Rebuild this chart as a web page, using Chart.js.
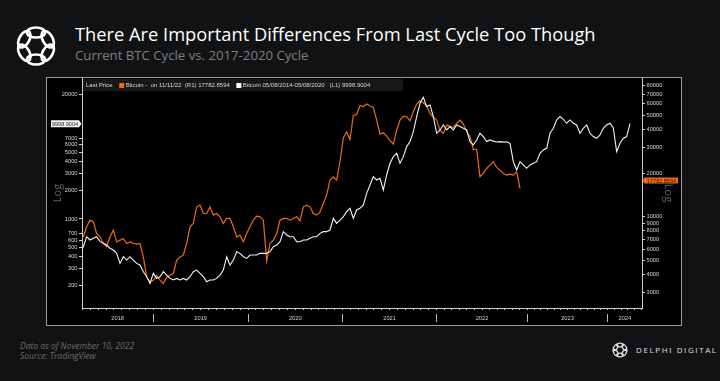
<!DOCTYPE html>
<html>
<head>
<meta charset="utf-8">
<script src="https://cdn.jsdelivr.net/npm/chart.js@4.4.0/dist/chart.umd.min.js"></script>
<style>
  html, body { margin: 0; padding: 0; }
  body { width: 720px; height: 381px; background: #111214; position: relative; overflow: hidden; font-family: "Open Sans", sans-serif; }
  .logo { position: absolute; left: 12px; top: 22px; }
  .title { position: absolute; left: 75px; top: 25px; color: #fff; font-size: 18.3px; line-height: 1; white-space: nowrap; }
  .subtitle { position: absolute; left: 75px; top: 49px; color: #7f7f7f; font-size: 13.2px; line-height: 1; white-space: nowrap; }
  .panel { position: absolute; left: 46px; top: 77px; width: 634px; height: 247px; border: 1px solid #9c9c9c; background: #000; }
  .panel canvas { display: block; }
  .note { position: absolute; left: 20px; color: #6c6c6c; font-size: 8.5px; font-style: italic; line-height: 1; white-space: nowrap; }
  .brand { position: absolute; left: 611px; top: 341px; }
  .brand-text { position: absolute; left: 636px; top: 346px; color: #e0e0e0; font-size: 8px; letter-spacing: 1.6px; line-height: 1; white-space: nowrap; }
</style>
</head>
<body>

<svg class="logo" width="48" height="48" viewBox="-24 -24 48 48">
  <defs><ellipse id="loop" cx="0" cy="-13.5" rx="9" ry="5" fill="none" stroke="#fff" stroke-width="2.6"/></defs>
  <use href="#loop"/><use href="#loop" transform="rotate(60)"/><use href="#loop" transform="rotate(120)"/>
  <use href="#loop" transform="rotate(180)"/><use href="#loop" transform="rotate(240)"/><use href="#loop" transform="rotate(300)"/>
</svg>
<div class="title">There Are Important Differences From Last Cycle Too Though</div>
<div class="subtitle">Current BTC Cycle vs. 2017-2020 Cycle</div>

<div class="panel"><canvas id="chart" width="634" height="247"></canvas></div>

<div class="note" style="top:342px">Data as of November 10, 2022</div>
<div class="note" style="top:352px">Source: TradingView</div>
<svg class="brand" width="18" height="18" viewBox="-24 -24 48 48">
  <defs><ellipse id="loop2" cx="0" cy="-13.5" rx="9" ry="5" fill="none" stroke="#e0e0e0" stroke-width="3.4"/></defs>
  <use href="#loop2"/><use href="#loop2" transform="rotate(60)"/><use href="#loop2" transform="rotate(120)"/>
  <use href="#loop2" transform="rotate(180)"/><use href="#loop2" transform="rotate(240)"/><use href="#loop2" transform="rotate(300)"/>
</svg>
<div class="brand-text">DELPHI DIGITAL</div>

<script>
// samples are read every ~3.3px along the time axis of the picture
const whiteValues = [
    436, 512, 652, 602, 627, 652, 578, 555, 533, 492,
    472, 436, 342, 402, 371, 402, 371, 342, 329, 280,
    248, 211, 269, 238, 248, 280, 258, 238, 229, 238,
    229, 238, 229, 248, 280, 291, 269, 248, 220, 229,
    229, 238, 258, 291, 402, 329, 371, 454, 436, 402,
    386, 419, 419, 419, 436, 436, 436, 454, 512, 533,
    578, 736, 679, 652, 652, 578, 578, 602, 602, 627,
    652, 652, 707, 736, 736, 766, 1015, 900, 975, 1057,
    1194, 1294, 1015, 1242, 1294, 1402, 1858, 2274, 2780, 2565,
    2670, 2014, 2893, 3836, 4507, 4885, 3836, 4507, 5740, 6480,
    8240, 11850, 16350, 18900, 15090, 15700, 11850, 7920, 8585, 9690,
    8585, 9305, 8585, 9690, 9305, 8940, 8585, 6480, 5980, 6740,
    7920, 7310, 6480, 6740, 6550, 6420, 6480, 6400, 6450, 6220,
    3995, 3265, 3995, 3685, 3400, 3685, 3836, 3995, 4885, 5295,
    5515, 7920, 8940, 10930, 11850, 11110, 10090, 10930, 10090, 9690,
    7920, 8940, 9690, 7920, 7310, 7020, 7610, 8940, 9690, 10090,
    8940, 5090, 6220, 7020, 7310, 9998.9004
];
const orangeValues = [
    7090, 7280, 8530, 9480, 9230, 7670, 7280, 6550, 6210, 7280,
    8090, 6720, 6900, 7090, 6550, 6720, 6550, 6480, 6550, 5297,
    3857, 3560, 3658, 3960, 3658, 3470, 3857, 3960, 4066, 5020,
    5297, 5440, 6550, 8530, 8990, 11710, 12030, 10540, 10540, 11710,
    10270, 10540, 10000, 8990, 9740, 9740, 8530, 7280, 7470, 6720,
    7670, 8530, 9480, 10100, 10000, 9480, 4960, 6550, 6900, 7670,
    9480, 9740, 9740, 9480, 9740, 10000, 9380, 11710, 12030, 11710,
    10540, 10270, 10820, 12350, 14100, 17890, 18860, 17890, 23930, 35000,
    38500, 34000, 50000, 50500, 58400, 57500, 59750, 57900, 56650, 46350,
    37110, 37900, 35950, 33400, 31650, 39540, 46350, 49400, 48870, 45870,
    52900, 59750, 63000, 61030, 57870, 51520, 48390, 46350, 39540, 37510,
    42810, 42140, 41240, 43950, 46350, 43500, 38510, 35580, 29100, 29100,
    18860, 19880, 21520, 22700, 23930, 21870, 20960, 19880, 19370, 19680,
    19370, 20280, 15700
];
const whiteLabel = 'Bitcoin 05/08/2014-05/08/2020';
const orangeLabel = 'Bitcoin -  on 11/11/22';
const whiteLast = 9998.9004;
const orangeLast = 17782.8594;

const leftTicks = [200, 300, 400, 500, 600, 700, 1000, 2000, 3000, 4000, 5000, 6000, 7000, 20000];
const rightTicks = [3000, 4000, 5000, 6000, 7000, 8000, 9000, 10000, 20000, 30000, 40000, 50000, 60000, 70000, 80000];
const yearLabels = ['2018', '2019', '2020', '2021', '2022', '2023', '2024'];
const yearStarts = [22.0, 50.4, 78.75, 107.0, 134.2, 158.3];

const xMin = 0.6;
const xMax = 168.6;
const samplePos = whiteValues.map((v, i) => i);

const orange = '#ee6a14';

function monthTicks() {
    const bounds = [yearStarts[0] - (yearStarts[1] - yearStarts[0])].concat(yearStarts, [yearStarts[5] + (yearStarts[5] - yearStarts[4])]);
    const out = [];
    for (let k = 0; k < bounds.length - 1; k++) {
        const step = (bounds[k + 1] - bounds[k]) / 12;
        for (let m = 0; m < 12; m++) {
            const v = bounds[k] + m * step;
            if (v >= xMin && v <= xMax) out.push({ value: v });
        }
    }
    return out;
}

function yearTicks() {
    const edges = [xMin].concat(yearStarts, [xMax]);
    const out = [];
    yearLabels.forEach((lab, i) => {
        out.push({ value: (edges[i] + edges[i + 1]) / 2, label: lab, sep: false });
    });
    yearStarts.forEach(v => out.push({ value: v, label: '', sep: true }));
    return out.sort((a, b) => a.value - b.value);
}

const overlayPlugin = {
    id: 'overlay',
    afterDraw(chart) {
        const ctx = chart.ctx;
        const area = chart.chartArea;
        const yL = chart.scales.yL;
        const yR = chart.scales.yR;
        ctx.save();

        // legend strip
        ctx.fillStyle = '#171717';
        ctx.fillRect(area.left + 1, area.top + 1, 320, 12);
        ctx.font = '6px "Liberation Sans"';
        ctx.textBaseline = 'middle';
        const ty = area.top + 7.5;
        let x = area.left + 4;
        ctx.fillStyle = '#d8d8d8';
        ctx.fillText('Last Price', x, ty);
        x += ctx.measureText('Last Price').width + 6.5;
        ctx.fillStyle = orange;
        ctx.fillRect(x, ty - 2.5, 5, 5);
        x += 6.5;
        ctx.fillStyle = '#d8d8d8';
        const t1 = orangeLabel + '  (R1) ' + orangeLast.toFixed(4);
        ctx.fillText(t1, x, ty);
        x += ctx.measureText(t1).width + 6.5;
        ctx.fillStyle = '#ffffff';
        ctx.fillRect(x, ty - 2.5, 5, 5);
        x += 6.5;
        ctx.fillStyle = '#d8d8d8';
        ctx.fillText(whiteLabel + '   (L1) ' + whiteLast.toFixed(4), x, ty);

        // last value tags
        ctx.font = '5.5px "Liberation Sans"';
        ctx.textAlign = 'center';
        let y = yL.getPixelForValue(whiteLast);
        ctx.fillStyle = '#f2f2f2';
        ctx.beginPath();
        ctx.moveTo(area.left - 31, y - 3.5);
        ctx.lineTo(area.left - 3, y - 3.5);
        ctx.lineTo(area.left - 0.5, y);
        ctx.lineTo(area.left - 3, y + 3.5);
        ctx.lineTo(area.left - 31, y + 3.5);
        ctx.closePath();
        ctx.fill();
        ctx.fillStyle = '#222';
        ctx.fillText(whiteLast.toFixed(4), area.left - 17, y + 0.5);

        y = yR.getPixelForValue(orangeLast);
        ctx.fillStyle = orange;
        ctx.beginPath();
        ctx.moveTo(area.right + 0.5, y);
        ctx.lineTo(area.right + 2.5, y - 3);
        ctx.lineTo(area.right + 36, y - 3);
        ctx.lineTo(area.right + 36, y + 3);
        ctx.lineTo(area.right + 2.5, y + 3);
        ctx.closePath();
        ctx.fill();
        ctx.fillStyle = '#3a1200';
        ctx.fillText(orangeLast.toFixed(4), area.right + 19.5, y + 0.5);
        ctx.restore();
    }
};

const tickFont = { family: 'Liberation Sans', size: 5.7 };

const ctx = document.getElementById('chart').getContext('2d');
new Chart(ctx, {
    type: 'line',
    data: {
        labels: samplePos,
        datasets: [{
            label: whiteLabel,
            data: whiteValues,
            yAxisID: 'yL',
            borderColor: '#f4f4f4',
            borderWidth: 1.1,
            pointRadius: 0,
            tension: 0
        }, {
            label: orangeLabel,
            data: orangeValues,
            yAxisID: 'yR',
            borderColor: orange,
            borderWidth: 1.2,
            pointRadius: 0,
            tension: 0
        }]
    },
    options: {
        responsive: false,
        animation: false,
        events: [],
        layout: { padding: 0 },
        plugins: { legend: { display: false }, tooltip: { enabled: false } },
        scales: {
            x: {
                type: 'linear', position: 'bottom', min: xMin, max: xMax, bounds: 'data', weight: 0,
                afterBuildTicks: s => { s.ticks = monthTicks(); },
                afterFit: s => { s.height = 6; s.paddingLeft = 0; s.paddingRight = 0; },
                ticks: { display: false },
                grid: { drawOnChartArea: false, tickLength: 2, color: '#bdbdbd' },
                border: { color: '#cfcfcf' }
            },
            xYears: {
                type: 'linear', position: 'bottom', min: xMin, max: xMax, bounds: 'data', weight: 1,
                afterBuildTicks: s => { s.ticks = yearTicks(); },
                afterFit: s => { s.height = 11; s.paddingLeft = 0; s.paddingRight = 0; },
                ticks: {
                    autoSkip: false, maxRotation: 0, color: '#cfcfcf', font: tickFont, padding: -7,
                    callback: function (v, i, ticks) { return ticks[i].label; }
                },
                grid: {
                    drawOnChartArea: false, tickLength: 8,
                    color: c => (c.tick && c.tick.sep) ? '#bdbdbd' : 'rgba(0,0,0,0)'
                },
                border: { display: false }
            },
            yL: {
                type: 'logarithmic', position: 'left', min: 116.5, max: 30100, bounds: 'data',
                afterBuildTicks: s => { s.ticks = leftTicks.map(v => ({ value: v })); },
                afterFit: s => { s.width = 35; s.paddingTop = 0; s.paddingBottom = 0; },
                ticks: { autoSkip: false, color: '#d4d4d4', font: tickFont, padding: 1.5, callback: v => String(v) },
                grid: { drawOnChartArea: false, tickLength: 3, color: '#cfcfcf' },
                border: { color: '#cfcfcf' },
                title: { display: true, text: 'Log', color: '#5e5e5e', font: { family: 'Open Sans', size: 11 }, padding: { top: 4.4, bottom: 0 } }
            },
            yR: {
                type: 'logarithmic', position: 'right', min: 2355, max: 90300, bounds: 'data',
                afterBuildTicks: s => { s.ticks = rightTicks.map(v => ({ value: v })); },
                afterFit: s => { s.width = 39; s.paddingTop = 0; s.paddingBottom = 0; },
                ticks: { autoSkip: false, color: '#d4d4d4', font: tickFont, padding: 1.5, callback: v => String(v) },
                grid: { drawOnChartArea: false, tickLength: 3, color: '#cfcfcf' },
                border: { color: '#cfcfcf' },
                title: { display: true, text: 'Log', color: '#5e5e5e', font: { family: 'Open Sans', size: 11 }, padding: { top: 6.5, bottom: 0 } }
            }
        }
    },
    plugins: [overlayPlugin]
});
</script>
</body>
</html>
